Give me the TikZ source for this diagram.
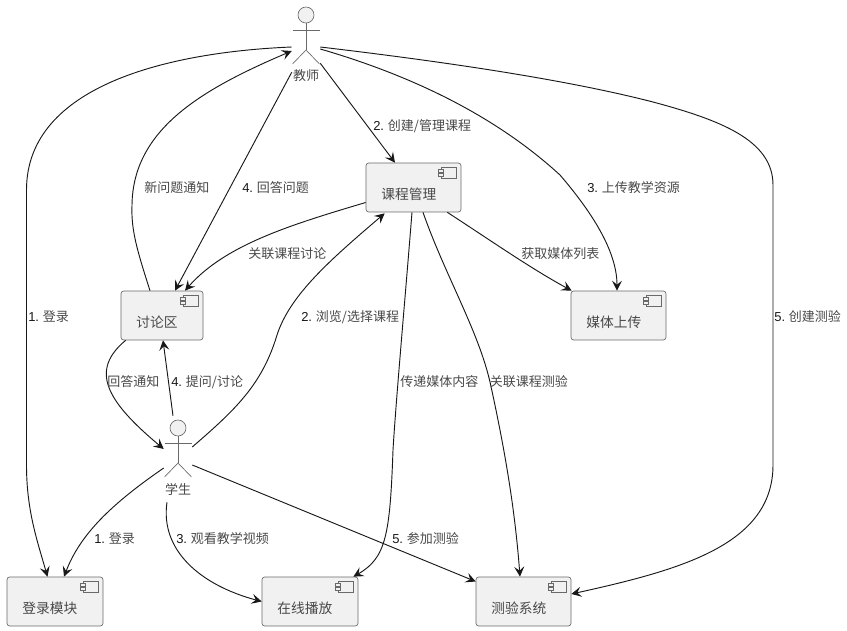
\documentclass[tikz,border=0pt]{standalone}
\usepackage{fontspec}
\setmainfont{Noto Sans CJK SC}
\newfontfamily\latinfont{Liberation Sans}
\usetikzlibrary{calc}
\usetikzlibrary{arrows.meta}
\definecolor{umlline}{RGB}{24,24,24}
\definecolor{umlfill}{RGB}{241,241,241}
\definecolor{umltext}{RGB}{72,72,72}
\tikzset{
  flow/.style={umlline, line width=0.7pt, -{Stealth[length=7.5pt,width=7.5pt,inset=3pt]}},
  note/.style={anchor=west, inner sep=0pt, font=\fontsize{9.75}{12}\selectfont, text=umltext},
  compbox/.style={draw=umlline!65, line width=0.5pt, fill=umlfill, rounded corners=2pt, minimum height=36.75pt, inner sep=0pt},
  stickbox/.style={minimum width=21pt, minimum height=24pt, inner sep=0pt},
  stickline/.style={draw=umlline!65, line width=0.5pt}
}
\newcommand{\no}[1]{{\latinfont\color{umlline} #1}}
% box with its small icon in the corner
\newcommand{\component}[5]{%
  \node [compbox, minimum width=#4*0.75pt] (#1) at (#2,#3) {};
  \node [note, font=\fontsize{10.3}{12}\selectfont] (#1-text) at ($(#1.west)+(15.5,6.5)$) {#5};
  \draw [stickline, fill=umlfill] ($(#1.north east)+(-20,5)$) rectangle ($(#1.north east)+(-5,15.5)$);
  \draw [stickline, fill=umlfill] ($(#1.north east)+(-23,7)$) rectangle ($(#1.north east)+(-18,10)$);
  \draw [stickline, fill=umlfill] ($(#1.north east)+(-23,10.7)$) rectangle ($(#1.north east)+(-18,13.7)$);
}
\newcommand{\stickman}[4]{%
  \node [stickbox] (#1) at (#2,#3) {};
  \draw [stickline, fill=umlfill] (#2,#3-33) circle (6pt);
  \draw [stickline] (#2,#3-25) -- (#2,#3+2);
  \draw [stickline] (#2-13.5,#3-18) -- (#2+13.5,#3-18);
  \draw [stickline] (#2-13.5,#3+16) -- (#2,#3+2) -- (#2+13.5,#3+16);
  \node [note, anchor=center] (#1-text) at (#2,#3+28) {#4};
}

\begin{document}
\begin{tikzpicture}[x=0.75pt, y=-0.75pt]
  \useasboundingbox (0,0) rectangle (847,631);

  \stickman{teacher}{306}{48}{教师}
  \stickman{student}{178}{461}{学生}

  \component{course}{413.5}{187.5}{95}{课程管理}
  \component{forum}{162}{315.5}{82}{讨论区}
  \component{media}{618.5}{315.5}{95}{媒体上传}
  \component{login}{55}{601.5}{96}{登录模块}
  \component{player}{310}{601.5}{96}{在线播放}
  \component{quiz}{523.5}{601.5}{95}{测验系统}

  % from the teacher
  \draw [flow] ($(teacher.west)+(0,-1)$) .. controls (170,52) and (26.5,85) .. (26.5,190)
    -- (26.5,465) .. controls (26.5,510) and (37,540) .. ($(login.north)+(-7.5,0)$);
  \draw [flow] ($(teacher.south east)+(0,-1)$) -- ($(course.north)+(-18.5,0)$);
  \draw [flow] ($(teacher.south west)+(0,8)$) -- ($(forum.north)+(13,0)$);
  \draw [flow] ($(teacher.east)+(0,1)$) .. controls (420,78) and (500,120) .. (560,175)
    .. controls (590,210) and (617,250) .. ($(media.north)+(-1.5,0)$);
  \draw [flow] ($(teacher.east)+(0,-1)$) .. controls (430,60) and (560,78) .. (653,102)
    .. controls (720,120) and (773,140) .. (773,185)
    -- (773,465) .. controls (773,545) and (680,570) .. ($(quiz.east)+(0,-7.5)$);

  % from the forum
  \draw [flow] ($(forum.north)+(-12,0)$) .. controls (137,250) and (131,230) .. (132,205)
    .. controls (133,130) and (200,90) .. ($(teacher.west)+(0,3)$);
  \draw [flow] ($(forum.south west)+(5,0)$) .. controls (90,370) and (105,400) .. ($(student.west)+(0,-12)$);

  % from the course box
  \draw [flow] ($(course.west)+(0,15)$) .. controls (290,225) and (225,245) .. ($(forum.north)+(23,0)$);
  \draw [flow] ($(course.south east)+(-14,0)$) .. controls (490,240) and (530,268) .. ($(media.north west)+(1,0)$);
  \draw [flow] ($(course.south)+(9.5,0)$) .. controls (445,275) and (478,330) .. (490,382)
    .. controls (505,450) and (515,510) .. ($(quiz.north)+(-3.5,0)$);
  \draw [flow] ($(course.south)+(-1.5,0)$) .. controls (405,300) and (396,400) .. (393,450)
    .. controls (390,535) and (386,558) .. ($(player.north east)+(-5,0)$);

  % from the student
  \draw [flow] ($(student.east)+(0,-14)$) .. controls (235,410) and (262,385) .. (277,335)
    .. controls (290,295) and (330,260) .. ($(course.south west)+(19,1)$);
  \draw [flow] ($(student.north)+(-5,-29)$) -- ($(forum.south)+(1,0)$);
  \draw [flow] ($(student.west)+(0,7)$) .. controls (110,505) and (80,535) .. ($(login.north)+(9,0)$);
  \draw [flow] ($(student.south)+(-11,25)$) .. controls (160,550) and (200,585) .. (player.west);
  \draw [flow] ($(student.east)+(0,4)$) -- ($(quiz.west)+(0,-20)$);

  % labels
  \node [note] (l1) at (28,317) {\no{1.} 登录};
  \node [note] (l2) at (144,188) {新问题通知};
  \node [note] (l3) at (242,188) {\no{4.} 回答问题};
  \node [note] (l4) at (373,126) {\no{2.} 创建/管理课程};
  \node [note] (l5) at (587,188) {\no{3.} 上传教学资源};
  \node [note] (l6) at (248,254) {关联课程讨论};
  \node [note] (l7) at (521,254) {获取媒体列表};
  \node [note] (l8) at (774,317) {\no{5.} 创建测验};
  \node [note] (l9) at (301,317) {\no{2.} 浏览/选择课程};
  \node [note] (l10) at (400,382) {传递媒体内容};
  \node [note] (l11) at (489.5,382) {关联课程测验};
  \node [note] (l12) at (107,382) {回答通知};
  \node [note] (l13) at (171,382) {\no{4.} 提问/讨论};
  \node [note] (l14) at (94,539) {\no{1.} 登录};
  \node [note] (l15) at (176,539) {\no{3.} 观看教学视频};
  \node [note] (l16) at (392,539) {\no{5.} 参加测验};
\end{tikzpicture}
\end{document}
